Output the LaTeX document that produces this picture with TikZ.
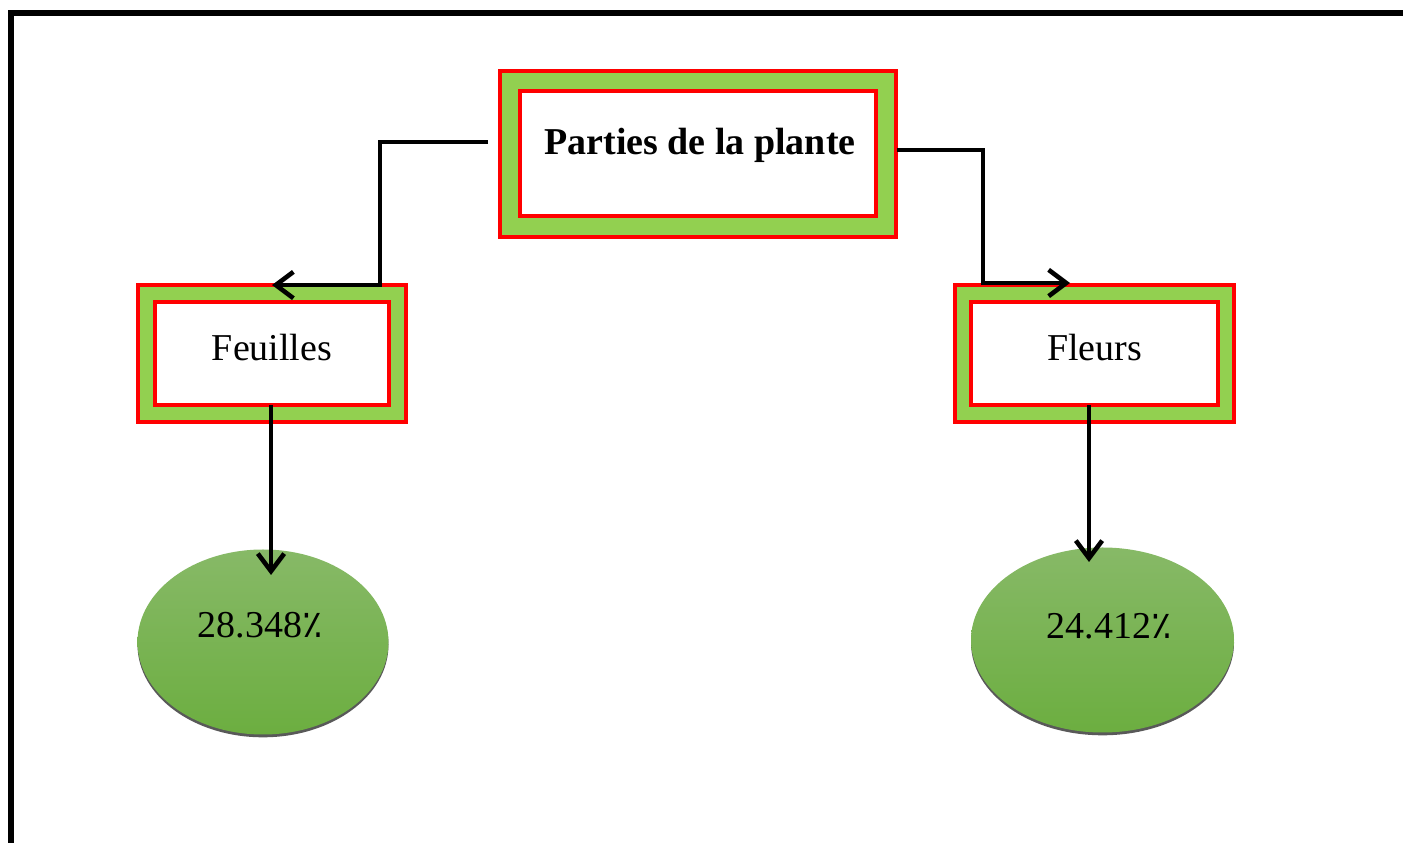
\documentclass[tikz,border=0pt]{standalone}
\usepackage{fontspec}
\setmainfont{Liberation Serif}
\newfontfamily\pctfont{DejaVu Sans}
\usetikzlibrary{arrows.meta,shadows,shapes.geometric}

\definecolor{boxgreen}{RGB}{146,208,80}
\definecolor{boxred}{RGB}{255,0,0}
\definecolor{ovaltop}{RGB}{135,185,103}
\definecolor{ovalbottom}{RGB}{108,174,64}

\begin{document}
\begin{tikzpicture}[
    outerbox/.style={draw=boxred, fill=boxgreen, line width=1.1pt, inner sep=0pt},
    innerbox/.style={draw=boxred, fill=white, line width=1.1pt, inner sep=0pt, text depth=0.12cm, font=\fontsize{10.8}{13}\selectfont},
    oval/.style={ellipse, inner sep=0pt, top color=ovaltop, bottom color=ovalbottom, draw=none,
        drop shadow={shadow xshift=0pt, shadow yshift=-0.8pt, fill=black!65, opacity=1}},
    conn/.style={line width=1.3pt, -{Straight Barb[length=5pt,width=7.5pt]}}
]
    \useasboundingbox (0,0) rectangle (14.03,8.43);
    % Draw the frame
    \draw[line width=1.9pt] (14.2,8.30) -| (0.11,-0.2);

    % Draw the boxes
    \node[outerbox, minimum width=3.96cm, minimum height=1.66cm] (plante) at (6.98,6.89) {};
    \node[innerbox, minimum width=3.56cm, minimum height=1.25cm] (plantein) at (6.98,6.895) {};
    \node[font=\fontsize{10.8}{13}\selectfont\bfseries] (titre) at (7.00,6.98) {Parties de la plante};

    \node[outerbox, minimum width=2.68cm, minimum height=1.37cm] (feuilles) at (2.72,4.895) {};
    \node[innerbox, minimum width=2.34cm, minimum height=1.03cm] (feuillesin) at (2.72,4.895) {Feuilles};

    \node[outerbox, minimum width=2.79cm, minimum height=1.37cm] (fleurs) at (10.945,4.895) {};
    \node[innerbox, minimum width=2.47cm, minimum height=1.03cm] (fleursin) at (10.945,4.895) {Fleurs};

    % Draw the ovals
    \node[oval, minimum width=2.51cm, minimum height=1.85cm] (feuillespct) at (2.63,2.01) {};
    \node[font=\fontsize{10.8}{13}\selectfont] (feuillesval) at (2.60,2.18) {28.348{\pctfont ٪}};
    \node[oval, minimum width=2.63cm, minimum height=1.85cm] (fleurspct) at (11.025,2.03) {};
    \node[font=\fontsize{10.8}{13}\selectfont] (fleursval) at (11.09,2.17) {24.412{\pctfont ٪}};

    % Connectors
    \coordinate (gauche) at (4.88,7.01);
    \coordinate (droite) at (8.97,6.93);
    \coordinate (fleursin-arr) at (10.70,5.60);
    \coordinate (feuilles-bas) at (2.71,4.38);
    \coordinate (feuilles-arr) at (2.71,2.68);
    \coordinate (fleurs-bas) at (10.89,4.38);
    \coordinate (fleurs-arr) at (10.89,2.81);

    \draw[conn] (gauche) -- (3.80,7.01) |- ([yshift=-0.02cm]feuilles.north);
    \draw[conn] (droite) -- (9.83,6.93) |- (fleursin-arr);
    \draw[conn] (feuilles-bas) -- (feuilles-arr);
    \draw[conn] (fleurs-bas) -- (fleurs-arr);
\end{tikzpicture}
\end{document}
